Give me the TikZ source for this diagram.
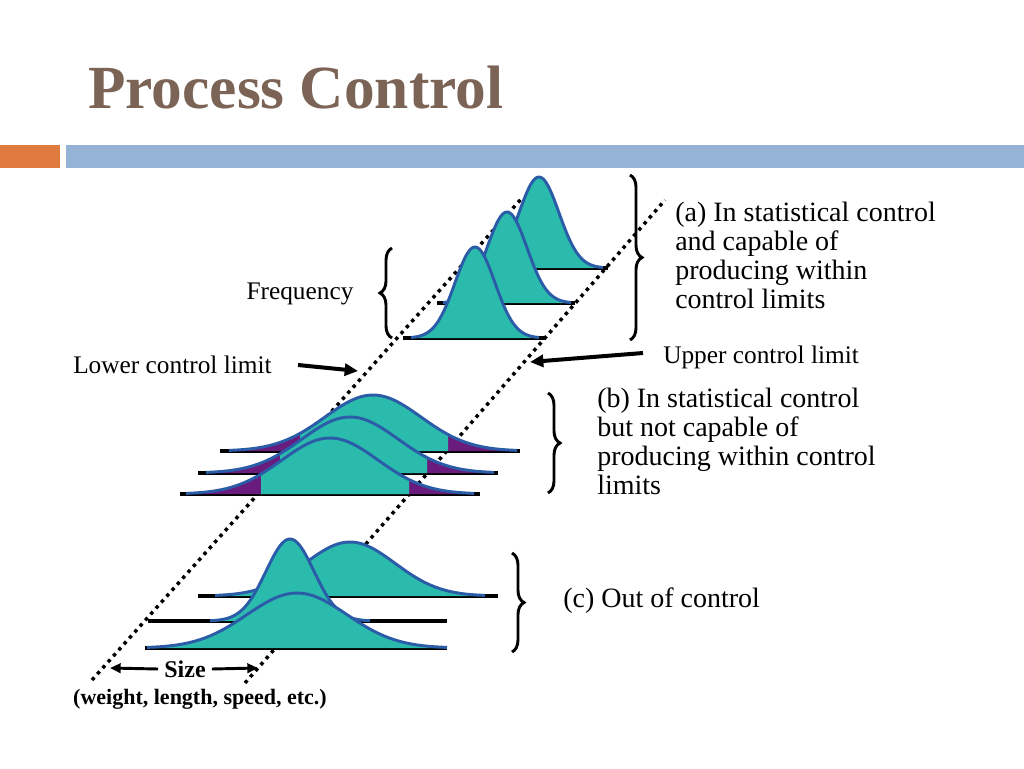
\documentclass[tikz,border=0pt]{standalone}
\usepackage{fontspec}
\setmainfont{Liberation Serif}
\usetikzlibrary{arrows.meta,decorations.pathreplacing}
\definecolor{teal1}{HTML}{2BBBAD}
\definecolor{blueo}{HTML}{2B5CA8}
\definecolor{purp}{HTML}{6A1B7E}
\definecolor{titlec}{HTML}{7B6455}
\definecolor{orng}{HTML}{E07B40}
\definecolor{barb}{HTML}{95B3D7}
\newcommand{\gfill}[7]{\fill[#7] (#5,#4) -- plot[domain=#5:#6,samples=60,smooth] (\x,{#4-#3*exp(-((\x-#1)/#2)^2/2)}) -- (#6,#4) -- cycle;}
\newcommand{\gline}[6]{\draw[outl] plot[domain=#5:#6,samples=80,smooth] (\x,{#4-#3*exp(-((\x-#1)/#2)^2/2)});}
\newcommand{\gcurve}[6]{\gfill{#1}{#2}{#3}{#4}{#5}{#6}{teal1}\gline{#1}{#2}{#3}{#4}{#5}{#6}}
\newcommand{\gtail}[8]{\gfill{#1}{#2}{#3}{#4}{#5}{#6}{purp}\gfill{#1}{#2}{#3}{#4}{#7}{#8}{teal1}\gline{#1}{#2}{#3}{#4}{#5}{#6}}
\tikzset{
 outl/.style={draw=blueo,line width=2.2pt,line join=round},
 baseln/.style={line width=3pt,black},
 dotl/.style={line width=2.6pt,dash pattern=on 2.6pt off 3.4pt},
 brc/.style={decorate,decoration={brace,amplitude=9pt},line width=2.2pt},
 lbl/.style={font=\fontsize{19}{22}\selectfont,inner sep=0pt},
 big/.style={font=\fontsize{21}{21.75}\selectfont,align=left,inner sep=0pt,anchor=west},
 arr/.style={line width=3pt,-{Triangle[length=10pt,width=9pt]}},
 sarr/.style={line width=2.2pt,-{Triangle[length=8pt,width=7pt]}}
}
\begin{document}
\begin{tikzpicture}[x=0.75pt,y=-0.75pt]
\useasboundingbox (0,0) rectangle (1024,768);
\fill[white] (0,0) rectangle (1024,768);
\node[anchor=base west,inner sep=0pt,text=titlec,font=\fontsize{46}{50}\selectfont\bfseries] (title) at (88,108) {Process Control};
\fill[orng] (0,145) rectangle (60,168);
\fill[barb] (66,145) rectangle (1024,168);
% control limit lines
\coordinate (l1) at (92,680); \coordinate (l2) at (522,198);
\coordinate (u1) at (245,683); \coordinate (u2) at (665,200);
\draw[dotl] (l1) -- (l2);
\draw[dotl] (u1) -- (u2);
% (a)
\draw[baseln] (470,268) -- (608,268);
\gcurve{539}{20}{91}{268}{475}{603}
\draw[baseln] (437,303) -- (575,303);
\gcurve{507}{20}{91}{303}{443}{571}
\draw[baseln] (403,338) -- (545,338);
\gcurve{475}{20}{91}{338}{411}{539}
% (b)
\draw[baseln] (220,451) -- (520,451);
\gtail{373}{48}{56}{451}{229}{517}{300}{448}
\draw[baseln] (198,473) -- (498,473);
\gtail{350}{48}{56}{473}{206}{494}{280}{427}
\draw[baseln] (180,494) -- (480,494);
\gtail{330}{48}{56}{494}{186}{474}{261}{409}
% (c)
\draw[baseln] (198,596) -- (498,596);
\gcurve{350}{45}{54}{596}{215}{485}
\draw[baseln] (148,621) -- (447,621);
\gcurve{290}{24}{82}{621}{210}{370}
\draw[baseln] (145,648) -- (447,648);
\gcurve{297}{50}{55}{648}{147}{447}
% braces
\draw[brc] (630,175) -- (630,340);
\draw[brc] (392,338) -- (392,248);
\draw[brc] (548,393) -- (548,493);
\draw[brc] (512,553) -- (512,652);
% labels
\node[big] (ta) at (675,255) {(a) In statistical control\\and capable of\\producing within\\control limits};
\node[big] (tb) at (597,441) {(b) In statistical control\\but not capable of\\producing within control\\limits};
\node[big] (tc) at (563,601) {(c) Out of control};
\node[lbl] (freq) at (300,294) {Frequency};
\node[lbl,anchor=west] (lcl) at (73,365) {Lower control limit};
\node[lbl,anchor=west] (ucl) at (663,357) {Upper control limit};
\coordinate (lclt) at (358,371);
\coordinate (uclt) at (530,362);
\draw[arr] (298,365) -- (lclt);
\draw[arr] (643,353) -- (uclt);
\node[lbl,font=\fontsize{18}{20}\selectfont\bfseries] (size) at (185,669) {Size};
\node[lbl,font=\fontsize{16.5}{20}\selectfont\bfseries] (wl) at (200,699) {(weight, length, speed, etc.)};
\coordinate (sl) at (110,668); \coordinate (sr) at (258,668);
\draw[sarr] (size.west) ++(-6,0) -- (sl);
\draw[sarr] (size.east) ++(6,0) -- (sr);
\end{tikzpicture}
\end{document}
